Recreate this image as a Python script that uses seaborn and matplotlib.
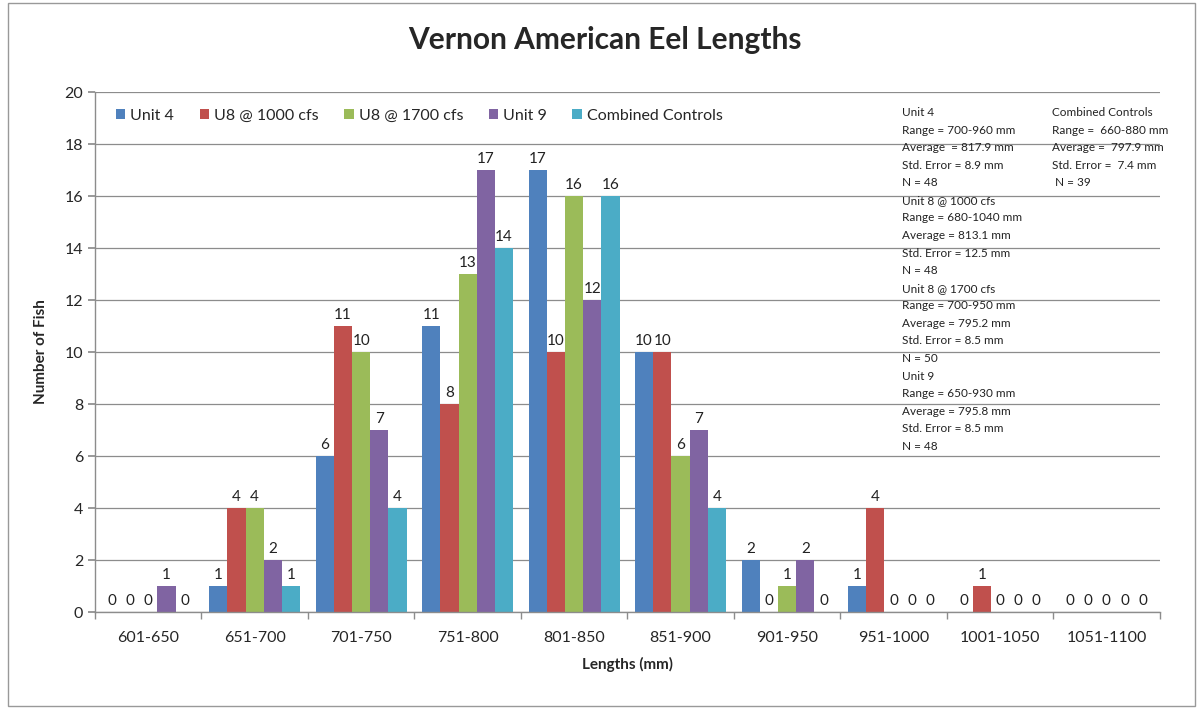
import matplotlib
matplotlib.use("Agg")
import matplotlib.pyplot as plt
import seaborn as sns
import pandas as pd
from matplotlib.patches import Rectangle, Patch

categories = ["601-650", "651-700", "701-750", "751-800", "801-850",
              "851-900", "901-950", "951-1000", "1001-1050", "1051-1100"]
series_names = ["Unit 4", "U8 @ 1000 cfs", "U8 @ 1700 cfs", "Unit 9", "Combined Controls"]
unit4 = [0, 1, 6, 11, 17, 10, 2, 1, 0, 0]
u8_1000 = [0, 4, 11, 8, 10, 10, 0, 4, 1, 0]
u8_1700 = [0, 4, 10, 13, 16, 6, 1, 0, 0, 0]
unit9 = [1, 2, 7, 17, 12, 7, 2, 0, 0, 0]
combined = [0, 1, 4, 14, 16, 4, 0, 0, 0, 0]
colors = ["#4F81BD", "#C0504D", "#9BBB59", "#8064A2", "#4BACC6"]

stats_left = ("Unit 4\nRange = 700-960 mm\nAverage  = 817.9 mm\nStd. Error = 8.9 mm\nN = 48\n"
              "Unit 8 @ 1000 cfs\nRange = 680-1040 mm\nAverage = 813.1 mm\nStd. Error = 12.5 mm\nN = 48\n"
              "Unit 8 @ 1700 cfs\nRange = 700-950 mm\nAverage = 795.2 mm\nStd. Error = 8.5 mm\nN = 50\n"
              "Unit 9\nRange = 650-930 mm\nAverage = 795.8 mm\nStd. Error = 8.5 mm\nN = 48")
stats_right = ("Combined Controls\nRange =  660-880 mm\nAverage =  797.9 mm\nStd. Error =  7.4 mm\n N = 39")

rows = []
for name, vals in zip(series_names, [unit4, u8_1000, u8_1700, unit9, combined]):
    for c, v in zip(categories, vals):
        rows.append({"Length": c, "Count": v, "Series": name})
df = pd.DataFrame(rows)

sns.set_theme(style="white")
plt.rcParams["font.family"] = ["Lato", "DejaVu Sans"]

fig = plt.figure(figsize=(11.98, 7.19), dpi=100)
ax = fig.add_axes([0.0793, 0.1488, 0.8887, 0.7232])

sns.barplot(data=df, x="Length", y="Count", hue="Series", order=categories,
            hue_order=series_names, palette=colors, width=0.855, gap=0,
            saturation=1, legend=False, linewidth=0, ax=ax)

for cont in ax.containers:
    ax.bar_label(cont, padding=3, fontsize=11, color="#222222")

ax.set_ylim(0, 20)
ax.set_xlim(-0.5, 9.5)
ax.set_yticks(range(0, 21, 2))
ax.yaxis.grid(True, color="#8c8c8c", lw=0.9)
ax.set_axisbelow(True)
for s in ["top", "right"]:
    ax.spines[s].set_visible(False)
for s in ["left", "bottom"]:
    ax.spines[s].set_color("#8c8c8c")
    ax.spines[s].set_linewidth(1.0)
ax.set_xticks([i - 0.5 for i in range(11)], minor=True)
ax.tick_params(axis="x", which="major", length=0, labelsize=11.5, pad=14)
ax.tick_params(axis="x", which="minor", length=5, color="#8c8c8c", direction="out", bottom=True)
ax.tick_params(axis="y", length=5, color="#8c8c8c", direction="out", left=True, labelsize=11.5)
ax.set_xlabel("Lengths (mm)", fontsize=11, fontweight="bold", labelpad=8)
ax.set_ylabel("Number of Fish", fontsize=11, fontweight="bold", labelpad=12)

handles = [Patch(facecolor=c, edgecolor="none") for c in colors]
ax.legend(handles, series_names, loc="upper left", ncol=5, frameon=False,
          bbox_to_anchor=(0.006, 0.995), fontsize=11.5, handlelength=0.6,
          handleheight=0.6, handletextpad=0.3, columnspacing=1.6)

fig.text(902 / 1198, 1 - 107 / 719, stats_left, fontsize=8.5, va="top", ha="left",
         linespacing=1.73, color="#222222")
fig.text(1052 / 1198, 1 - 107 / 719, stats_right, fontsize=8.5, va="top", ha="left",
         linespacing=1.73, color="#222222")

fig.text(605 / 1198, 1 - 40 / 719, "Vernon American Eel Lengths", fontsize=21.5,
         fontweight="bold", ha="center", va="center")

fig.patches.append(Rectangle((8 / 1198, 1 - 706 / 719), 1187 / 1198, 703 / 719,
                             transform=fig.transFigure, fill=False, edgecolor="#999999", lw=1))

fig.savefig("out.png", dpi=100)
